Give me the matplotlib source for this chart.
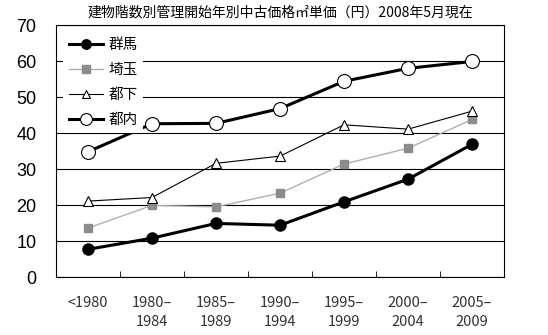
import matplotlib.pyplot as plt
import numpy as np

plt.rcParams['font.family'] = ['Noto Sans CJK JP', 'DejaVu Sans']

# データ
categories = ['<1980', '1980–\n1984', '1985–\n1989', '1990–\n1994',
              '1995–\n1999', '2000–\n2004', '2005–\n2009']
gunma = [7.7, 10.8, 14.9, 14.4, 20.9, 27.2, 36.9]
saitama = [13.6, 19.9, 19.5, 23.3, 31.4, 35.8, 43.8]
toka = [21.1, 22.1, 31.6, 33.6, 42.3, 41.1, 46.1]
tonai = [34.8, 42.6, 42.7, 46.8, 54.4, 58.0, 59.9]

fig = plt.figure(figsize=(5.48, 3.35), dpi=100)
ax = fig.add_axes([0.102, 0.173, 0.818, 0.752])

x = np.arange(len(categories))

ax.plot(x, gunma, color='black', lw=2.2, marker='o', ms=8,
        mfc='black', mec='black', label='群馬', zorder=5)
ax.plot(x, saitama, color='#b0b0b0', lw=1, marker='s', ms=6,
        mfc='#8c8c8c', mec='#8c8c8c', label='埼玉', zorder=4)
ax.plot(x, toka, color='black', lw=0.8, marker='^', ms=7,
        mfc='white', mec='black', mew=0.8, label='都下', zorder=4)
ax.plot(x, tonai, color='black', lw=2.2, marker='o', ms=10,
        mfc='white', mec='black', mew=0.8, label='都内', zorder=5)

ax.set_xlim(-0.5, 6.5)
ax.set_ylim(0, 70)
ax.set_yticks(range(0, 71, 10))
ax.yaxis.grid(True, color='black', lw=0.8)
ax.set_axisbelow(True)

ax.set_xticks(x)
ax.set_xticklabels(categories, fontsize=10.5, color='#333333', linespacing=1.45)
ax.set_xticks(np.arange(-0.5, 7, 1), minor=True)
ax.tick_params(axis='x', which='major', length=0, pad=14)
ax.tick_params(axis='x', which='minor', direction='in', length=4)
ax.tick_params(axis='y', length=0, pad=14)
for lab in ax.get_yticklabels():
    lab.set_fontsize(13)
    lab.set_family(['Liberation Sans', 'DejaVu Sans'])

for s in ax.spines.values():
    s.set_color('black')
    s.set_linewidth(0.8)

ax.set_title('建物階数別管理開始年別中古価格㎡単価（円）2008年5月現在',
             fontsize=10, pad=6)

leg = ax.legend(loc='upper left', frameon=True, fontsize=10.5,
                handlelength=2.3, borderaxespad=0.5, labelspacing=0.75,
                handletextpad=0.4, markerscale=0.85)
leg.get_frame().set_edgecolor('none')
leg.get_frame().set_facecolor('white')
leg.get_frame().set_alpha(1)

fig.savefig('out.png', dpi=100)
